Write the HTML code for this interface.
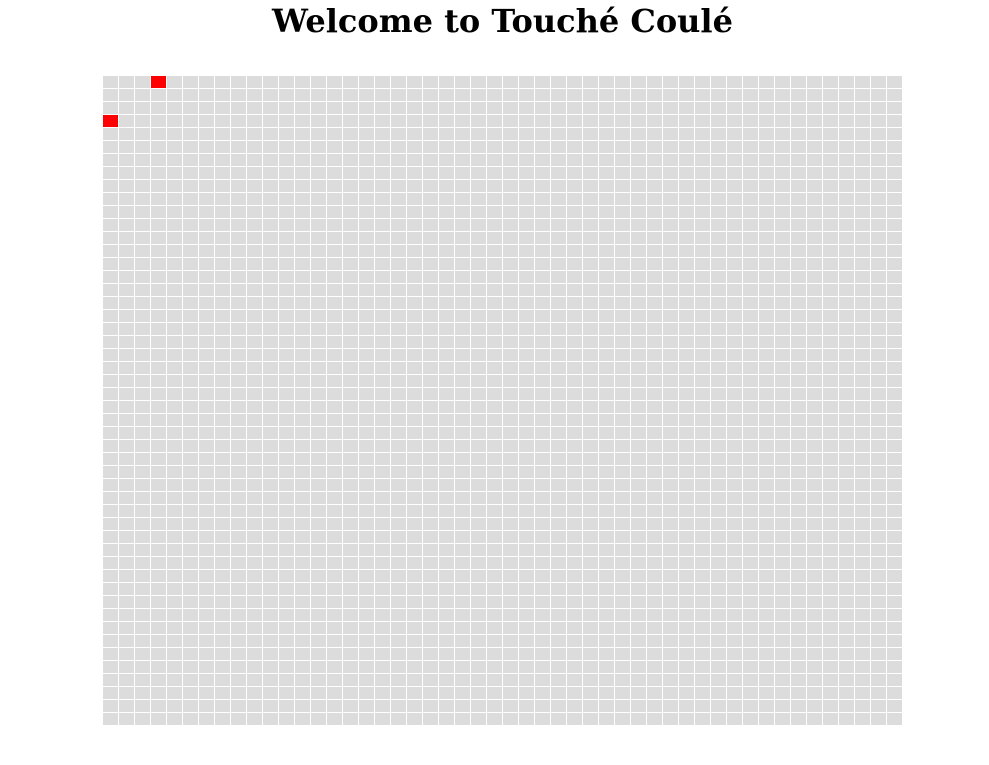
<!DOCTYPE html>
<html><head><meta charset="utf-8"><style>
body{margin:0;width:989px;height:765px;background:#fff;overflow:hidden}
h1{position:absolute;top:-2px;left:0;width:1005px;margin:0;text-align:center;font:bold 32px "DejaVu Serif",serif;line-height:46px}
#grid{position:absolute;left:103px;top:76px;width:800px;height:650px}
.c{position:absolute;width:15px;height:12px;background:#dcdcdc}
.c.hit{background:#ff0000}
</style></head><body>
<h1>Welcome to Touché Coulé</h1>
<div id="grid"></div>
<script>
const cols = 50;
const rows = 50;
const hits = [[3,0],[0,3]];
const g = document.getElementById('grid');
for (let r = 0; r < rows; r++) for (let c = 0; c < cols; c++) {
  const d = document.createElement('div');
  d.className = 'c' + (hits.some(h => h[0] === c && h[1] === r) ? ' hit' : '');
  d.style.left = (c * 16) + 'px';
  d.style.top = (r * 13) + 'px';
  
  
  g.appendChild(d);
}
</script>
</body></html>
